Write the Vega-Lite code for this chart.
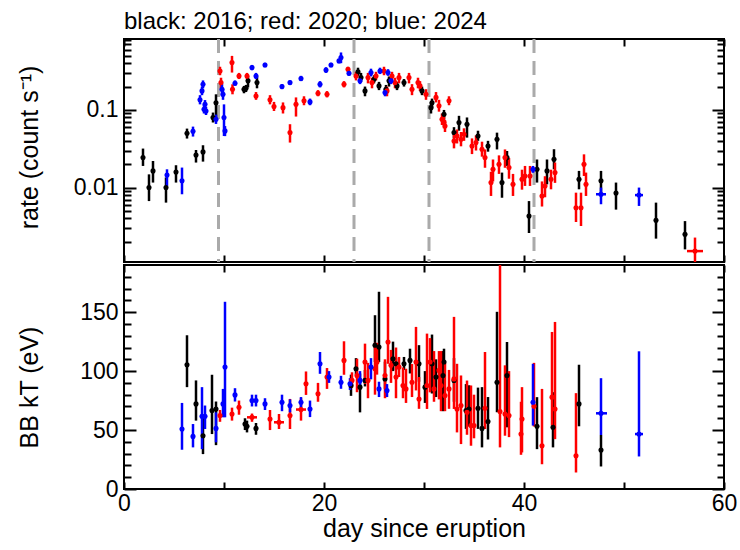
{
  "$schema": "https://vega.github.io/schema/vega-lite/v6.json",
  "background": "white",
  "padding": {"left": 15, "top": 8, "right": 10, "bottom": 0},
  "spacing": -7,
  "config": {
    "font": "Liberation Sans, Arial, sans-serif",
    "view": {"stroke": "black", "strokeWidth": 2},
    "axis": {
      "domain": false,
      "grid": false,
      "labelFontSize": 23,
      "labelColor": "black",
      "titleFontSize": 25,
      "titleFontWeight": "normal",
      "titleColor": "black",
      "tickColor": "black",
      "tickWidth": 2,
      "labelOverlap": false,
      "labelFlush": false
    }
  },
  "datasets": {
    "guides": [{"d": 9.45}, {"d": 23}, {"d": 30.5}, {"d": 41}],
    "rate": [
      {"yr": "2016", "d": 1.9, "r": 0.0244, "lo": 0.019, "hi": 0.0318},
      {"yr": "2016", "d": 2.5, "r": 0.01, "lo": 0.0067, "hi": 0.0148},
      {"yr": "2016", "d": 2.9, "r": 0.0164, "lo": 0.0116, "hi": 0.022},
      {"yr": "2016", "d": 4.2, "r": 0.01, "lo": 0.0064, "hi": 0.0135},
      {"yr": "2016", "d": 5.2, "r": 0.0159, "lo": 0.0116, "hi": 0.0194},
      {"yr": "2016", "d": 6.3, "r": 0.0501, "lo": 0.0428, "hi": 0.0575},
      {"yr": "2016", "d": 7.2, "r": 0.0263, "lo": 0.021, "hi": 0.0305},
      {"yr": "2016", "d": 7.9, "r": 0.0288, "lo": 0.0216, "hi": 0.0351},
      {"yr": "2016", "d": 8.9, "r": 0.0798, "lo": 0.0689, "hi": 0.0925},
      {"yr": "2016", "d": 9.2, "r": 0.124, "lo": 0.0798, "hi": 0.159},
      {"yr": "2016", "d": 12.0, "r": 0.185, "lo": 0.164, "hi": 0.204},
      {"yr": "2016", "d": 12.2, "r": 0.19, "lo": 0.17, "hi": 0.21},
      {"yr": "2016", "d": 12.4, "r": 0.237, "lo": 0.195, "hi": 0.274},
      {"yr": "2016", "d": 13.3, "r": 0.225, "lo": 0.19, "hi": 0.27},
      {"yr": "2016", "d": 23.4, "r": 0.309, "lo": 0.27, "hi": 0.35},
      {"yr": "2016", "d": 23.7, "r": 0.261, "lo": 0.23, "hi": 0.3},
      {"yr": "2016", "d": 24.1, "r": 0.176, "lo": 0.15, "hi": 0.2},
      {"yr": "2016", "d": 25.0, "r": 0.249, "lo": 0.22, "hi": 0.28},
      {"yr": "2016", "d": 25.5, "r": 0.204, "lo": 0.18, "hi": 0.23},
      {"yr": "2016", "d": 26.2, "r": 0.185, "lo": 0.16, "hi": 0.21},
      {"yr": "2016", "d": 26.5, "r": 0.237, "lo": 0.2, "hi": 0.27},
      {"yr": "2016", "d": 27.3, "r": 0.204, "lo": 0.18, "hi": 0.23},
      {"yr": "2016", "d": 28.0, "r": 0.225, "lo": 0.2, "hi": 0.25},
      {"yr": "2016", "d": 29.8, "r": 0.176, "lo": 0.155, "hi": 0.2},
      {"yr": "2016", "d": 30.7, "r": 0.107, "lo": 0.09, "hi": 0.125},
      {"yr": "2016", "d": 30.8, "r": 0.124, "lo": 0.105, "hi": 0.14},
      {"yr": "2016", "d": 32.0, "r": 0.088, "lo": 0.075, "hi": 0.1},
      {"yr": "2016", "d": 33.0, "r": 0.0512, "lo": 0.043, "hi": 0.06},
      {"yr": "2016", "d": 33.5, "r": 0.0689, "lo": 0.054, "hi": 0.084},
      {"yr": "2016", "d": 34.3, "r": 0.0655, "lo": 0.044, "hi": 0.08},
      {"yr": "2016", "d": 35.4, "r": 0.0462, "lo": 0.04, "hi": 0.054},
      {"yr": "2016", "d": 36.4, "r": 0.0343, "lo": 0.029, "hi": 0.04},
      {"yr": "2016", "d": 37.3, "r": 0.0419, "lo": 0.031, "hi": 0.051},
      {"yr": "2016", "d": 37.8, "r": 0.0116, "lo": 0.0074, "hi": 0.0156},
      {"yr": "2016", "d": 38.3, "r": 0.0244, "lo": 0.019, "hi": 0.0296},
      {"yr": "2016", "d": 40.5, "r": 0.0043, "lo": 0.0026, "hi": 0.0067},
      {"yr": "2016", "d": 41.3, "r": 0.0172, "lo": 0.0116, "hi": 0.023},
      {"yr": "2016", "d": 42.3, "r": 0.0164, "lo": 0.011, "hi": 0.023},
      {"yr": "2016", "d": 43.0, "r": 0.0232, "lo": 0.0172, "hi": 0.0312},
      {"yr": "2016", "d": 45.5, "r": 0.0128, "lo": 0.0095, "hi": 0.0164},
      {"yr": "2016", "d": 47.7, "r": 0.0122, "lo": 0.0086, "hi": 0.0164},
      {"yr": "2016", "d": 49.2, "r": 0.0085, "lo": 0.0052, "hi": 0.0116},
      {"yr": "2016", "d": 53.2, "r": 0.0038, "lo": 0.0022, "hi": 0.0064},
      {"yr": "2016", "d": 56.1, "r": 0.0025, "lo": 0.0016, "hi": 0.0037},
      {"yr": "2020", "d": 9.6, "r": 0.318, "lo": 0.28, "hi": 0.36},
      {"yr": "2020", "d": 9.7, "r": 0.225, "lo": 0.19, "hi": 0.26},
      {"yr": "2020", "d": 10.8, "r": 0.408, "lo": 0.303, "hi": 0.497},
      {"yr": "2020", "d": 10.85, "r": 0.185, "lo": 0.159, "hi": 0.214},
      {"yr": "2020", "d": 11.5, "r": 0.274, "lo": 0.25, "hi": 0.3},
      {"yr": "2020", "d": 12.3, "r": 0.274, "lo": 0.25, "hi": 0.3},
      {"yr": "2020", "d": 13.2, "r": 0.151, "lo": 0.135, "hi": 0.17},
      {"yr": "2020", "d": 14.6, "r": 0.135, "lo": 0.118, "hi": 0.155},
      {"yr": "2020", "d": 15.0, "r": 0.111, "lo": 0.097, "hi": 0.127},
      {"yr": "2020", "d": 15.9, "r": 0.107, "lo": 0.09, "hi": 0.125},
      {"yr": "2020", "d": 16.6, "r": 0.0512, "lo": 0.038, "hi": 0.0655},
      {"yr": "2020", "d": 17.2, "r": 0.118, "lo": 0.0822, "hi": 0.145},
      {"yr": "2020", "d": 18.0, "r": 0.131, "lo": 0.115, "hi": 0.15},
      {"yr": "2020", "d": 19.4, "r": 0.164, "lo": 0.15, "hi": 0.18},
      {"yr": "2020", "d": 20.3, "r": 0.159, "lo": 0.145, "hi": 0.175},
      {"yr": "2020", "d": 22.0, "r": 0.214, "lo": 0.195, "hi": 0.235},
      {"yr": "2020", "d": 22.4, "r": 0.335, "lo": 0.31, "hi": 0.36},
      {"yr": "2020", "d": 23.2, "r": 0.274, "lo": 0.24, "hi": 0.31},
      {"yr": "2020", "d": 24.4, "r": 0.261, "lo": 0.22, "hi": 0.3},
      {"yr": "2020", "d": 24.8, "r": 0.225, "lo": 0.19, "hi": 0.26},
      {"yr": "2020", "d": 25.2, "r": 0.274, "lo": 0.24, "hi": 0.31},
      {"yr": "2020", "d": 26.0, "r": 0.318, "lo": 0.28, "hi": 0.36},
      {"yr": "2020", "d": 26.3, "r": 0.176, "lo": 0.15, "hi": 0.2},
      {"yr": "2020", "d": 26.8, "r": 0.274, "lo": 0.24, "hi": 0.31},
      {"yr": "2020", "d": 27.1, "r": 0.225, "lo": 0.19, "hi": 0.26},
      {"yr": "2020", "d": 27.5, "r": 0.261, "lo": 0.22, "hi": 0.3},
      {"yr": "2020", "d": 28.5, "r": 0.261, "lo": 0.22, "hi": 0.3},
      {"yr": "2020", "d": 28.8, "r": 0.185, "lo": 0.155, "hi": 0.215},
      {"yr": "2020", "d": 29.4, "r": 0.225, "lo": 0.19, "hi": 0.26},
      {"yr": "2020", "d": 29.6, "r": 0.204, "lo": 0.175, "hi": 0.235},
      {"yr": "2020", "d": 30.2, "r": 0.159, "lo": 0.135, "hi": 0.185},
      {"yr": "2020", "d": 31.2, "r": 0.145, "lo": 0.125, "hi": 0.17},
      {"yr": "2020", "d": 31.5, "r": 0.113, "lo": 0.095, "hi": 0.135},
      {"yr": "2020", "d": 31.8, "r": 0.0759, "lo": 0.064, "hi": 0.09},
      {"yr": "2020", "d": 32.0, "r": 0.0689, "lo": 0.058, "hi": 0.082},
      {"yr": "2020", "d": 32.1, "r": 0.0622, "lo": 0.052, "hi": 0.074},
      {"yr": "2020", "d": 32.5, "r": 0.131, "lo": 0.115, "hi": 0.15},
      {"yr": "2020", "d": 33.0, "r": 0.0398, "lo": 0.032, "hi": 0.048},
      {"yr": "2020", "d": 33.3, "r": 0.0462, "lo": 0.037, "hi": 0.056},
      {"yr": "2020", "d": 33.7, "r": 0.0419, "lo": 0.034, "hi": 0.052},
      {"yr": "2020", "d": 34.0, "r": 0.0487, "lo": 0.04, "hi": 0.058},
      {"yr": "2020", "d": 34.8, "r": 0.0343, "lo": 0.027, "hi": 0.043},
      {"yr": "2020", "d": 35.2, "r": 0.038, "lo": 0.03, "hi": 0.047},
      {"yr": "2020", "d": 35.8, "r": 0.0312, "lo": 0.025, "hi": 0.039},
      {"yr": "2020", "d": 36.1, "r": 0.0244, "lo": 0.018, "hi": 0.031},
      {"yr": "2020", "d": 36.7, "r": 0.0116, "lo": 0.0078, "hi": 0.016},
      {"yr": "2020", "d": 36.9, "r": 0.0172, "lo": 0.012, "hi": 0.023},
      {"yr": "2020", "d": 37.5, "r": 0.02, "lo": 0.015, "hi": 0.026},
      {"yr": "2020", "d": 38.1, "r": 0.0244, "lo": 0.018, "hi": 0.031},
      {"yr": "2020", "d": 38.5, "r": 0.0181, "lo": 0.013, "hi": 0.024},
      {"yr": "2020", "d": 38.9, "r": 0.011, "lo": 0.0078, "hi": 0.015},
      {"yr": "2020", "d": 39.8, "r": 0.0128, "lo": 0.0094, "hi": 0.017},
      {"yr": "2020", "d": 40.1, "r": 0.0141, "lo": 0.0105, "hi": 0.019},
      {"yr": "2020", "d": 40.6, "r": 0.0141, "lo": 0.0105, "hi": 0.019},
      {"yr": "2020", "d": 41.8, "r": 0.0078, "lo": 0.0057, "hi": 0.012},
      {"yr": "2020", "d": 42.1, "r": 0.0105, "lo": 0.0075, "hi": 0.014},
      {"yr": "2020", "d": 42.7, "r": 0.0128, "lo": 0.0095, "hi": 0.017},
      {"yr": "2020", "d": 43.1, "r": 0.0156, "lo": 0.0115, "hi": 0.021},
      {"yr": "2020", "d": 45.2, "r": 0.0055, "lo": 0.0036, "hi": 0.0086},
      {"yr": "2020", "d": 45.7, "r": 0.0055, "lo": 0.0032, "hi": 0.0086},
      {"yr": "2020", "d": 46.0, "r": 0.02, "lo": 0.0141, "hi": 0.0268},
      {"yr": "2020", "d": 46.2, "r": 0.011, "lo": 0.0078, "hi": 0.0156},
      {"yr": "2020", "d": 57.1, "r": 0.00152, "lo": 0.001, "hi": 0.00227, "d0": 56.3, "d1": 57.9},
      {"yr": "2024", "d": 4.3, "r": 0.0145, "lo": 0.0105, "hi": 0.0172},
      {"yr": "2024", "d": 5.8, "r": 0.0122, "lo": 0.0082, "hi": 0.0181},
      {"yr": "2024", "d": 6.9, "r": 0.0532, "lo": 0.0454, "hi": 0.061},
      {"yr": "2024", "d": 7.6, "r": 0.135, "lo": 0.118, "hi": 0.155},
      {"yr": "2024", "d": 7.8, "r": 0.176, "lo": 0.155, "hi": 0.2},
      {"yr": "2024", "d": 7.9, "r": 0.214, "lo": 0.19, "hi": 0.24},
      {"yr": "2024", "d": 8.0, "r": 0.102, "lo": 0.09, "hi": 0.116},
      {"yr": "2024", "d": 8.1, "r": 0.118, "lo": 0.104, "hi": 0.134},
      {"yr": "2024", "d": 8.2, "r": 0.097, "lo": 0.086, "hi": 0.11},
      {"yr": "2024", "d": 9.2, "r": 0.0759, "lo": 0.066, "hi": 0.087},
      {"yr": "2024", "d": 9.8, "r": 0.185, "lo": 0.15, "hi": 0.22},
      {"yr": "2024", "d": 9.9, "r": 0.159, "lo": 0.135, "hi": 0.185},
      {"yr": "2024", "d": 10.0, "r": 0.0798, "lo": 0.0462, "hi": 0.118},
      {"yr": "2024", "d": 10.1, "r": 0.0537, "lo": 0.046, "hi": 0.062},
      {"yr": "2024", "d": 11.1, "r": 0.221, "lo": 0.205, "hi": 0.24},
      {"yr": "2024", "d": 12.8, "r": 0.351, "lo": 0.325, "hi": 0.38},
      {"yr": "2024", "d": 13.2, "r": 0.274, "lo": 0.25, "hi": 0.3},
      {"yr": "2024", "d": 14.1, "r": 0.38, "lo": 0.355, "hi": 0.405},
      {"yr": "2024", "d": 15.8, "r": 0.2, "lo": 0.185, "hi": 0.215},
      {"yr": "2024", "d": 16.6, "r": 0.225, "lo": 0.21, "hi": 0.24},
      {"yr": "2024", "d": 17.7, "r": 0.254, "lo": 0.235, "hi": 0.275},
      {"yr": "2024", "d": 18.6, "r": 0.127, "lo": 0.115, "hi": 0.14},
      {"yr": "2024", "d": 19.6, "r": 0.214, "lo": 0.195, "hi": 0.235},
      {"yr": "2024", "d": 20.2, "r": 0.327, "lo": 0.3, "hi": 0.355},
      {"yr": "2024", "d": 20.7, "r": 0.38, "lo": 0.355, "hi": 0.405},
      {"yr": "2024", "d": 21.5, "r": 0.428, "lo": 0.4, "hi": 0.455},
      {"yr": "2024", "d": 21.7, "r": 0.473, "lo": 0.4, "hi": 0.55},
      {"yr": "2024", "d": 22.5, "r": 0.297, "lo": 0.275, "hi": 0.32},
      {"yr": "2024", "d": 23.6, "r": 0.237, "lo": 0.215, "hi": 0.26},
      {"yr": "2024", "d": 24.7, "r": 0.303, "lo": 0.27, "hi": 0.34},
      {"yr": "2024", "d": 25.6, "r": 0.318, "lo": 0.29, "hi": 0.35},
      {"yr": "2024", "d": 26.1, "r": 0.168, "lo": 0.15, "hi": 0.19},
      {"yr": "2024", "d": 26.4, "r": 0.303, "lo": 0.275, "hi": 0.335},
      {"yr": "2024", "d": 26.7, "r": 0.237, "lo": 0.215, "hi": 0.26},
      {"yr": "2024", "d": 40.9, "r": 0.0172, "lo": 0.0155, "hi": 0.019},
      {"yr": "2024", "d": 47.7, "r": 0.0082, "lo": 0.0061, "hi": 0.01, "d0": 47.2, "d1": 48.2},
      {"yr": "2024", "d": 51.5, "r": 0.008, "lo": 0.0058, "hi": 0.01, "d0": 51.1, "d1": 51.9}
    ],
    "kt": [
      {"yr": "2016", "d": 6.3, "t": 105.4, "lo": 86.4, "hi": 130.4},
      {"yr": "2016", "d": 7.2, "t": 72.2, "lo": 58, "hi": 92.1},
      {"yr": "2016", "d": 7.9, "t": 45.2, "lo": 29.6, "hi": 62.3},
      {"yr": "2016", "d": 8.8, "t": 66.5, "lo": 46.6, "hi": 96.9},
      {"yr": "2016", "d": 9.2, "t": 67.9, "lo": 37.2, "hi": 74.2},
      {"yr": "2016", "d": 12.1, "t": 55.1, "lo": 50, "hi": 60},
      {"yr": "2016", "d": 12.3, "t": 53.2, "lo": 48, "hi": 58},
      {"yr": "2016", "d": 13.2, "t": 51.4, "lo": 46, "hi": 56},
      {"yr": "2016", "d": 22.7, "t": 87.8, "lo": 79, "hi": 97},
      {"yr": "2016", "d": 23.2, "t": 102, "lo": 97, "hi": 111},
      {"yr": "2016", "d": 23.6, "t": 86.4, "lo": 65, "hi": 98},
      {"yr": "2016", "d": 24.1, "t": 92.1, "lo": 87, "hi": 101},
      {"yr": "2016", "d": 25.1, "t": 121.9, "lo": 107.7, "hi": 147.4},
      {"yr": "2016", "d": 25.5, "t": 120.4, "lo": 107.7, "hi": 167.3},
      {"yr": "2016", "d": 26.1, "t": 93.4, "lo": 85, "hi": 108},
      {"yr": "2016", "d": 26.9, "t": 110.5, "lo": 100, "hi": 125},
      {"yr": "2016", "d": 27.2, "t": 106.2, "lo": 101, "hi": 111},
      {"yr": "2016", "d": 28.0, "t": 106.2, "lo": 101, "hi": 112},
      {"yr": "2016", "d": 28.6, "t": 109.1, "lo": 98, "hi": 119},
      {"yr": "2016", "d": 29.5, "t": 106.2, "lo": 91, "hi": 122},
      {"yr": "2016", "d": 30.1, "t": 86.4, "lo": 73, "hi": 100},
      {"yr": "2016", "d": 30.8, "t": 106.2, "lo": 81, "hi": 131},
      {"yr": "2016", "d": 31.2, "t": 94.9, "lo": 78, "hi": 110},
      {"yr": "2016", "d": 31.9, "t": 96.3, "lo": 66, "hi": 117},
      {"yr": "2016", "d": 32.0, "t": 107.7, "lo": 78, "hi": 119},
      {"yr": "2016", "d": 33.0, "t": 92.1, "lo": 74, "hi": 111},
      {"yr": "2016", "d": 34.2, "t": 66.5, "lo": 51, "hi": 89},
      {"yr": "2016", "d": 34.5, "t": 67.9, "lo": 53, "hi": 88},
      {"yr": "2016", "d": 35.4, "t": 68.5, "lo": 51, "hi": 86},
      {"yr": "2016", "d": 35.8, "t": 51.4, "lo": 35.3, "hi": 86.4},
      {"yr": "2016", "d": 36.4, "t": 57.2, "lo": 42, "hi": 78},
      {"yr": "2016", "d": 37.3, "t": 90.6, "lo": 65.1, "hi": 150.3},
      {"yr": "2016", "d": 38.3, "t": 96.3, "lo": 52.3, "hi": 124.7},
      {"yr": "2016", "d": 41.3, "t": 53.2, "lo": 33.8, "hi": 77.9},
      {"yr": "2016", "d": 42.9, "t": 52.3, "lo": 35.3, "hi": 82.1},
      {"yr": "2016", "d": 45.5, "t": 72.2, "lo": 53.2, "hi": 105.4},
      {"yr": "2016", "d": 47.7, "t": 33, "lo": 19.1, "hi": 45.8},
      {"yr": "2020", "d": 9.6, "t": 62.3, "lo": 57, "hi": 67},
      {"yr": "2020", "d": 10.8, "t": 63.6, "lo": 58, "hi": 69},
      {"yr": "2020", "d": 11.5, "t": 69.3, "lo": 63, "hi": 75},
      {"yr": "2020", "d": 12.8, "t": 60.8, "lo": 57, "hi": 64, "d0": 12.3, "d1": 13.3},
      {"yr": "2020", "d": 14.6, "t": 59.4, "lo": 50, "hi": 67},
      {"yr": "2020", "d": 15.5, "t": 56.6, "lo": 50.9, "hi": 63.6, "d0": 15.0, "d1": 16.0},
      {"yr": "2020", "d": 16.6, "t": 62.3, "lo": 50.9, "hi": 76.4},
      {"yr": "2020", "d": 17.7, "t": 67.4, "lo": 58, "hi": 77, "d0": 17.2, "d1": 18.2},
      {"yr": "2020", "d": 18.2, "t": 89.2, "lo": 79.8, "hi": 99.7},
      {"yr": "2020", "d": 19.4, "t": 80.7, "lo": 74, "hi": 90},
      {"yr": "2020", "d": 20.3, "t": 94.9, "lo": 84.9, "hi": 102.6},
      {"yr": "2020", "d": 22.0, "t": 109.1, "lo": 96.9, "hi": 125.3},
      {"yr": "2020", "d": 22.8, "t": 92.1, "lo": 86, "hi": 99},
      {"yr": "2020", "d": 23.3, "t": 96.3, "lo": 82.1, "hi": 110.5},
      {"yr": "2020", "d": 24.1, "t": 107.7, "lo": 89.2, "hi": 123.3},
      {"yr": "2020", "d": 24.4, "t": 92.1, "lo": 77, "hi": 107},
      {"yr": "2020", "d": 25.1, "t": 102, "lo": 80, "hi": 124},
      {"yr": "2020", "d": 25.3, "t": 107.7, "lo": 97, "hi": 124},
      {"yr": "2020", "d": 26.1, "t": 96.3, "lo": 77, "hi": 110},
      {"yr": "2020", "d": 26.4, "t": 124.7, "lo": 106.2, "hi": 163},
      {"yr": "2020", "d": 26.7, "t": 104.9, "lo": 90, "hi": 118},
      {"yr": "2020", "d": 27.2, "t": 94.9, "lo": 77, "hi": 120},
      {"yr": "2020", "d": 27.5, "t": 103.4, "lo": 95, "hi": 112},
      {"yr": "2020", "d": 27.9, "t": 87.8, "lo": 77, "hi": 103},
      {"yr": "2020", "d": 28.2, "t": 84.9, "lo": 73, "hi": 102},
      {"yr": "2020", "d": 28.8, "t": 90.6, "lo": 78, "hi": 106},
      {"yr": "2020", "d": 29.2, "t": 107.7, "lo": 83.6, "hi": 137.5},
      {"yr": "2020", "d": 29.5, "t": 76.4, "lo": 68, "hi": 95},
      {"yr": "2020", "d": 30.3, "t": 87.8, "lo": 67.9, "hi": 131.8},
      {"yr": "2020", "d": 30.6, "t": 107.7, "lo": 82, "hi": 128},
      {"yr": "2020", "d": 31.0, "t": 84.9, "lo": 74, "hi": 117},
      {"yr": "2020", "d": 31.5, "t": 100.6, "lo": 76, "hi": 117},
      {"yr": "2020", "d": 31.7, "t": 87.8, "lo": 66, "hi": 117},
      {"yr": "2020", "d": 32.1, "t": 79.3, "lo": 66, "hi": 107},
      {"yr": "2020", "d": 32.5, "t": 84.9, "lo": 68, "hi": 101},
      {"yr": "2020", "d": 33.0, "t": 93.4, "lo": 67.9, "hi": 146},
      {"yr": "2020", "d": 33.3, "t": 67.9, "lo": 48, "hi": 106.2},
      {"yr": "2020", "d": 33.7, "t": 70.8, "lo": 38.1, "hi": 96.3},
      {"yr": "2020", "d": 34.3, "t": 65.1, "lo": 46, "hi": 92},
      {"yr": "2020", "d": 34.7, "t": 53.8, "lo": 36.7, "hi": 87.8},
      {"yr": "2020", "d": 35.0, "t": 53.8, "lo": 43, "hi": 80},
      {"yr": "2020", "d": 36.1, "t": 68.5, "lo": 50.9, "hi": 116.2},
      {"yr": "2020", "d": 37.6, "t": 65.7, "lo": 35.3, "hi": 190},
      {"yr": "2020", "d": 38.1, "t": 63.6, "lo": 45.2, "hi": 104.9},
      {"yr": "2020", "d": 38.5, "t": 62.3, "lo": 44, "hi": 100},
      {"yr": "2020", "d": 39.7, "t": 46.6, "lo": 29, "hi": 74},
      {"yr": "2020", "d": 39.8, "t": 59.4, "lo": 31, "hi": 86.4},
      {"yr": "2020", "d": 41.0, "t": 70.2, "lo": 53, "hi": 107},
      {"yr": "2020", "d": 41.8, "t": 36.7, "lo": 21, "hi": 84.9},
      {"yr": "2020", "d": 42.8, "t": 77.9, "lo": 53.8, "hi": 133.2},
      {"yr": "2020", "d": 43.1, "t": 67.9, "lo": 42.3, "hi": 141.7},
      {"yr": "2020", "d": 45.2, "t": 28.2, "lo": 14, "hi": 81.3},
      {"yr": "2024", "d": 5.8, "t": 50.9, "lo": 33.3, "hi": 73},
      {"yr": "2024", "d": 6.9, "t": 44.6, "lo": 35.3, "hi": 55.1},
      {"yr": "2024", "d": 7.8, "t": 61.7, "lo": 33.8, "hi": 86.4},
      {"yr": "2024", "d": 8.1, "t": 61.7, "lo": 50.9, "hi": 70.8},
      {"yr": "2024", "d": 9.2, "t": 51.4, "lo": 39.6, "hi": 65},
      {"yr": "2024", "d": 9.9, "t": 72.2, "lo": 60.8, "hi": 84.9},
      {"yr": "2024", "d": 10.1, "t": 103.4, "lo": 60.8, "hi": 158.8},
      {"yr": "2024", "d": 11.1, "t": 79.8, "lo": 74.2, "hi": 85.5},
      {"yr": "2024", "d": 12.8, "t": 75, "lo": 70, "hi": 80},
      {"yr": "2024", "d": 13.2, "t": 75, "lo": 70, "hi": 80},
      {"yr": "2024", "d": 14.1, "t": 72.2, "lo": 67, "hi": 77},
      {"yr": "2024", "d": 15.8, "t": 73.6, "lo": 66, "hi": 80},
      {"yr": "2024", "d": 16.6, "t": 70.8, "lo": 65, "hi": 76},
      {"yr": "2024", "d": 17.7, "t": 73.6, "lo": 68, "hi": 78},
      {"yr": "2024", "d": 18.6, "t": 67.9, "lo": 61, "hi": 75},
      {"yr": "2024", "d": 19.6, "t": 106.2, "lo": 97.7, "hi": 116.2},
      {"yr": "2024", "d": 20.5, "t": 94.9, "lo": 90, "hi": 100},
      {"yr": "2024", "d": 21.7, "t": 90.6, "lo": 85, "hi": 96},
      {"yr": "2024", "d": 22.6, "t": 89.2, "lo": 84, "hi": 94},
      {"yr": "2024", "d": 23.6, "t": 92.1, "lo": 85, "hi": 100},
      {"yr": "2024", "d": 24.7, "t": 103.4, "lo": 93, "hi": 111},
      {"yr": "2024", "d": 25.5, "t": 84.9, "lo": 78, "hi": 91},
      {"yr": "2024", "d": 26.3, "t": 83.6, "lo": 78, "hi": 89},
      {"yr": "2024", "d": 40.9, "t": 73.6, "lo": 53.8, "hi": 106.2},
      {"yr": "2024", "d": 47.7, "t": 64.2, "lo": 45.8, "hi": 94, "d0": 47.2, "d1": 48.3},
      {"yr": "2024", "d": 51.5, "t": 46.6, "lo": 27.6, "hi": 116.8, "d0": 51.1, "d1": 51.9}
    ]
  },
  "vconcat": [
    {
      "width": 600,
      "height": 223,
      "title": {"text": "black: 2016; red: 2020; blue: 2024", "anchor": "start", "frame": "group", "fontSize": 24, "fontWeight": "normal", "color": "black", "offset": -5},
      "layer": [
        {
          "data": {"name": "guides"},
          "mark": {"type": "rule", "color": "#aaaaaa", "strokeWidth": 3, "strokeDash": [14, 8]},
          "encoding": {
            "x": {"field": "d", "type": "quantitative", "scale": {"domain": [0, 60]}, "axis": null}
          }
        },
        {
          "data": {"name": "rate"},
          "mark": {"type": "rule", "strokeWidth": 2.5, "clip": true},
          "encoding": {
            "x": {"field": "d", "type": "quantitative", "scale": {"domain": [0, 60]},
                  "axis": {"orient": "bottom", "values": [0, 10, 20, 30, 40, 50, 60], "labels": false, "tickSize": -7, "title": null}},
            "y": {"field": "lo", "type": "quantitative", "scale": {"type": "log", "domain": [0.0011, 0.82]},
                  "axis": {"orient": "left", "title": "rate (count s⁻¹)", "titleX": -95, "titleY": 108, "titleBaseline": "middle",
                           "values": [0.002, 0.003, 0.004, 0.005, 0.006, 0.007, 0.008, 0.009, 0.01, 0.02, 0.03, 0.04, 0.05, 0.06, 0.07, 0.08, 0.09, 0.1, 0.2, 0.3, 0.4, 0.5, 0.6, 0.7, 0.8],
                           "labelExpr": "datum.value == 0.01 ? '0.01' : datum.value == 0.1 ? '0.1' : ''",
                           "tickSize": {"condition": {"test": "datum.value == 0.01 || datum.value == 0.1", "value": -12}, "value": -7},
                           "labelPadding": 18}},
            "y2": {"field": "hi"},
            "color": {"field": "yr", "type": "nominal", "scale": {"domain": ["2016", "2020", "2024"], "range": ["#000000", "#ff0000", "#0000ff"]}, "legend": null}
          }
        },
        {
          "data": {"name": "rate"},
          "transform": [{"filter": "isValid(datum.d0)"}],
          "mark": {"type": "rule", "strokeWidth": 2.5, "clip": true},
          "encoding": {
            "x": {"field": "d0", "type": "quantitative", "scale": {"domain": [0, 60]}, "axis": null},
            "x2": {"field": "d1"},
            "y": {"field": "r", "type": "quantitative", "scale": {"type": "log", "domain": [0.0011, 0.82]}, "axis": null},
            "color": {"field": "yr", "type": "nominal", "scale": {"domain": ["2016", "2020", "2024"], "range": ["#000000", "#ff0000", "#0000ff"]}, "legend": null}
          }
        },
        {
          "data": {"name": "rate"},
          "mark": {"type": "circle", "size": 26, "opacity": 1, "clip": true},
          "encoding": {
            "x": {"field": "d", "type": "quantitative", "scale": {"domain": [0, 60]},
                  "axis": {"orient": "top", "values": [0, 10, 20, 30, 40, 50, 60], "labels": false, "tickSize": -7, "title": null}},
            "y": {"field": "r", "type": "quantitative", "scale": {"type": "log", "domain": [0.0011, 0.82]},
                  "axis": {"orient": "right", "title": null, "labels": false,
                           "values": [0.002, 0.003, 0.004, 0.005, 0.006, 0.007, 0.008, 0.009, 0.01, 0.02, 0.03, 0.04, 0.05, 0.06, 0.07, 0.08, 0.09, 0.1, 0.2, 0.3, 0.4, 0.5, 0.6, 0.7, 0.8],
                           "tickSize": {"condition": {"test": "datum.value == 0.01 || datum.value == 0.1", "value": -12}, "value": -7}}},
            "color": {"field": "yr", "type": "nominal", "scale": {"domain": ["2016", "2020", "2024"], "range": ["#000000", "#ff0000", "#0000ff"]}, "legend": null}
          }
        }
      ],
      "resolve": {"axis": {"x": "independent", "y": "independent"}}
    },
    {
      "width": 600,
      "height": 224,
      "data": {"name": "kt"},
      "layer": [
        {
          "mark": {"type": "rule", "strokeWidth": 2.5, "clip": true},
          "encoding": {
            "x": {"field": "d", "type": "quantitative", "scale": {"domain": [0, 60]},
                  "axis": {"orient": "bottom", "values": [0, 10, 20, 30, 40, 50, 60], "tickSize": -7,
                           "labelExpr": "datum.value % 20 == 0 ? datum.label : ''", "labelPadding": 10,
                           "title": "day since eruption", "titlePadding": 1}},
            "y": {"field": "lo", "type": "quantitative", "scale": {"domain": [0, 190], "nice": false},
                  "axis": {"orient": "left", "title": "BB kT (eV)", "titleX": -95, "titleY": 122, "titleBaseline": "middle",
                           "values": [0, 10, 20, 30, 40, 50, 60, 70, 80, 90, 100, 110, 120, 130, 140, 150, 160, 170, 180],
                           "labelExpr": "datum.value % 50 == 0 ? datum.label : ''",
                           "tickSize": {"condition": {"test": "datum.value % 50 == 0", "value": -12}, "value": -7},
                           "labelPadding": 18}},
            "y2": {"field": "hi"},
            "color": {"field": "yr", "type": "nominal", "scale": {"domain": ["2016", "2020", "2024"], "range": ["#000000", "#ff0000", "#0000ff"]}, "legend": null}
          }
        },
        {
          "transform": [{"filter": "isValid(datum.d0)"}],
          "mark": {"type": "rule", "strokeWidth": 2.5, "clip": true},
          "encoding": {
            "x": {"field": "d0", "type": "quantitative", "scale": {"domain": [0, 60]}, "axis": null},
            "x2": {"field": "d1"},
            "y": {"field": "t", "type": "quantitative", "scale": {"domain": [0, 190], "nice": false}, "axis": null},
            "color": {"field": "yr", "type": "nominal", "scale": {"domain": ["2016", "2020", "2024"], "range": ["#000000", "#ff0000", "#0000ff"]}, "legend": null}
          }
        },
        {
          "mark": {"type": "circle", "size": 26, "opacity": 1, "clip": true},
          "encoding": {
            "x": {"field": "d", "type": "quantitative", "scale": {"domain": [0, 60]},
                  "axis": {"orient": "top", "values": [0, 10, 20, 30, 40, 50, 60], "labels": false, "tickSize": -7, "title": null}},
            "y": {"field": "t", "type": "quantitative", "scale": {"domain": [0, 190], "nice": false},
                  "axis": {"orient": "right", "title": null, "labels": false,
                           "values": [0, 10, 20, 30, 40, 50, 60, 70, 80, 90, 100, 110, 120, 130, 140, 150, 160, 170, 180],
                           "tickSize": {"condition": {"test": "datum.value % 50 == 0", "value": -12}, "value": -7}}},
            "color": {"field": "yr", "type": "nominal", "scale": {"domain": ["2016", "2020", "2024"], "range": ["#000000", "#ff0000", "#0000ff"]}, "legend": null}
          }
        }
      ],
      "resolve": {"axis": {"x": "independent", "y": "independent"}}
    }
  ]
}
